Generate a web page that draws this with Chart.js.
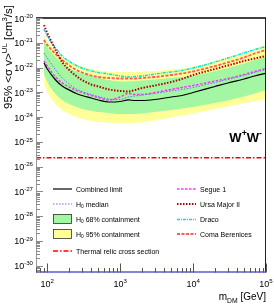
<!DOCTYPE html>
<html>
<head>
<meta charset="utf-8">
<script src="https://cdn.jsdelivr.net/npm/chart.js@4"></script>
<style>
html, body { margin: 0; padding: 0; background: #fff; }
canvas { display: block; }
</style>
</head>
<body>
<canvas id="chart" width="274" height="307"></canvas>
<script>
// DM mass grid (GeV) and 95% UL on <sigma v> (cm^3/s)
const masses = [90, 100, 130, 160, 200, 250, 300, 400, 500, 700, 1000, 1300, 1600, 2000, 3000, 5000, 7000, 1e4, 2e4, 3e4, 5e4, 7e4, 1e5];

const combined = [1.52e-22, 8.7e-23, 3.14e-23, 1.80e-23, 1.24e-23, 8.95e-24, 7.43e-24, 5.89e-24, 4.90e-24, 4.06e-24, 4.26e-24, 4.90e-24, 4.67e-24, 4.67e-24, 5.13e-24, 6.47e-24, 7.43e-24, 9.82e-24, 1.72e-23, 2.38e-23, 3.44e-23, 4.55e-23, 5.85e-23];
const median = [3.86e-22, 2.43e-22, 7.96e-23, 3.78e-23, 2.16e-23, 1.36e-23, 1.08e-23, 8.16e-24, 6.78e-24, 5.37e-24, 5.13e-24, 6.47e-24, 7.10e-24, 7.78e-24, 8.95e-24, 1.13e-23, 1.30e-23, 1.56e-23, 2.49e-23, 3.29e-23, 4.77e-23, 6.31e-23, 8.34e-23];
const segue1 = [1.84e-22, 1.15e-22, 4.15e-23, 2.38e-23, 1.64e-23, 1.18e-23, 9.82e-24, 7.43e-24, 6.17e-24, 4.90e-24, 6.47e-24, 8.95e-24, 8.16e-24, 8.16e-24, 9.82e-24, 1.30e-23, 1.56e-23, 1.88e-23, 2.86e-23, 3.61e-23, 5.24e-23, 6.92e-23, 9.14e-23];
const ursaMajorII = [5.21e-21, 2.48e-21, 5.11e-22, 1.67e-22, 7.96e-23, 4.55e-23, 3.14e-23, 2.07e-23, 1.72e-23, 1.30e-23, 1.13e-23, 1.08e-23, 1.24e-23, 1.49e-23, 1.88e-23, 2.61e-23, 3.44e-23, 5.00e-23, 8.73e-23, 1.21e-22, 1.84e-22, 2.32e-22, 2.92e-22];
const draco = [3.60e-21, 1.88e-21, 6.15e-22, 2.92e-22, 1.75e-22, 1.21e-22, 9.57e-23, 7.24e-23, 6.31e-23, 5.48e-23, 4.55e-23, 4.15e-23, 4.35e-23, 4.55e-23, 5.48e-23, 6.61e-23, 7.59e-23, 9.57e-23, 1.67e-22, 2.43e-22, 3.86e-22, 5.35e-22, 7.06e-22];
const comaBerenices = [1.29e-21, 8.13e-22, 3.52e-22, 2.01e-22, 1.21e-22, 7.96e-23, 6.31e-23, 4.77e-23, 4.15e-23, 3.78e-23, 3.61e-23, 3.61e-23, 3.61e-23, 3.78e-23, 4.15e-23, 5.00e-23, 5.74e-23, 6.92e-23, 1.15e-22, 1.60e-22, 2.54e-22, 3.69e-22, 5.11e-22];

// H0 containment bands
const band68Hi = [1.18e-21, 6.75e-22, 2.66e-22, 1.52e-22, 9.58e-23, 6.92e-23, 5.75e-23, 4.55e-23, 3.78e-23, 3.14e-23, 2.73e-23, 2.73e-23, 2.86e-23, 3.00e-23, 3.29e-23, 3.78e-23, 4.15e-23, 4.77e-23, 7.25e-23, 9.58e-23, 1.46e-22, 2.02e-22, 2.66e-22];
const band68Lo = [5.49e-23, 2.61e-23, 8.55e-24, 4.89e-24, 3.37e-24, 2.55e-24, 2.12e-24, 1.76e-24, 1.60e-24, 1.46e-24, 1.33e-24, 1.33e-24, 1.33e-24, 1.39e-24, 1.60e-24, 1.93e-24, 2.22e-24, 2.55e-24, 3.70e-24, 4.67e-24, 6.77e-24, 8.95e-24, 1.24e-23];
const band95Hi = [2.06e-21, 1.18e-21, 4.65e-22, 2.79e-22, 1.84e-22, 1.33e-22, 1.10e-22, 8.73e-23, 7.59e-23, 6.92e-23, 6.61e-23, 6.61e-23, 6.61e-23, 6.92e-23, 7.25e-23, 8.33e-23, 9.15e-23, 1.10e-22, 1.84e-22, 2.54e-22, 4.05e-22, 5.60e-22, 8.13e-22];
const band95Lo = [2.17e-23, 1.03e-23, 3.37e-24, 1.93e-24, 1.33e-24, 1.01e-24, 8.37e-25, 6.95e-25, 6.33e-25, 6.04e-25, 5.77e-25, 5.77e-25, 5.77e-25, 6.04e-25, 7.28e-25, 9.62e-25, 1.16e-24, 1.39e-24, 2.12e-24, 2.67e-24, 3.70e-24, 4.46e-24, 5.13e-24];

// thermal relic cross section
const relicMass = [70, 1e5];
const relicSigma = [2.3e-26, 2.3e-26];

// axis ranges and decade tick labels
const xMin = 70, xMax = 1e5;
const yMin = 5.3e-31, yMax = 1e-20;
const xDecades = [2, 3, 4, 5];
const yDecades = [-30, -29, -28, -27, -26, -25, -24, -23, -22, -21, -20];

const FONT = '"Liberation Sans", Arial, Helvetica, sans-serif';

function pts(xs, ys) { return xs.map((m, i) => ({ x: m, y: ys[i] })); }

function line(data, color, width, dash, order) {
    return { data, borderColor: color, borderWidth: width, borderDash: dash, fill: false, order,
             cubicInterpolationMode: 'monotone', pointRadius: 0 };
}

// draw text made of normal and superscript/subscript pieces
function richText(ctx, parts, x, y, size, align) {
    const small = size * 0.68;
    let w = 0;
    parts.forEach(p => {
        ctx.font = (p.bold ? 'bold ' : '') + (p.sup || p.sub ? small : size) + 'px ' + FONT;
        p.w = ctx.measureText(p.t).width;
        w += p.w;
    });
    let cx = align === 'right' ? x - w : align === 'center' ? x - w / 2 : x;
    parts.forEach(p => {
        ctx.font = (p.bold ? 'bold ' : '') + (p.sup || p.sub ? small : size) + 'px ' + FONT;
        const dy = p.sup ? -size * 0.42 : p.sub ? size * 0.25 : 0;
        ctx.fillText(p.t, cx, y + dy);
        cx += p.w;
    });
}

const decorPlugin = {
    id: 'decor',
    afterDraw(chart) {
        const ctx = chart.ctx;
        const { left, right, top, bottom } = chart.chartArea;
        const xs = chart.scales.x, ys = chart.scales.y;
        ctx.save();
        ctx.textBaseline = 'alphabetic';
        ctx.fillStyle = '#000';

        // frame
        ctx.lineWidth = 1;
        ctx.strokeStyle = '#999';
        ctx.beginPath(); ctx.moveTo(left + 0.5, top); ctx.lineTo(left + 0.5, bottom); ctx.stroke();
        ctx.strokeStyle = '#222';
        ctx.beginPath(); ctx.moveTo(right - 0.5, top); ctx.lineTo(right - 0.5, bottom); ctx.stroke();
        ctx.lineWidth = 1.5;
        ctx.strokeStyle = '#000';
        ctx.beginPath(); ctx.moveTo(left, top); ctx.lineTo(right, top); ctx.stroke();
        ctx.strokeStyle = '#5b5bd0';
        ctx.beginPath(); ctx.moveTo(left, bottom - 0.5); ctx.lineTo(right, bottom - 0.5); ctx.stroke();

        // y ticks (inside, left)
        ctx.lineWidth = 1;
        ctx.strokeStyle = '#8a8a8a';
        for (let e = -31; e <= -20; e++) {
            for (let k = 1; k <= 9; k++) {
                const v = Number(k + 'e' + e);
                if (v < yMin || v > yMax) continue;
                const py = Math.round(ys.getPixelForValue(v)) + 0.5;
                const len = k === 1 ? 7 : 4;
                ctx.beginPath(); ctx.moveTo(left, py); ctx.lineTo(left + len, py); ctx.stroke();
            }
        }
        // x ticks (inside, bottom)
        ctx.strokeStyle = '#555';
        for (let e = 1; e <= 5; e++) {
            for (let k = 1; k <= 9; k++) {
                const v = Number(k + 'e' + e);
                if (v < xMin || v > xMax) continue;
                const px = Math.round(xs.getPixelForValue(v)) + 0.5;
                const len = k === 1 ? 9 : 4.5;
                ctx.beginPath(); ctx.moveTo(px, bottom); ctx.lineTo(px, bottom - len); ctx.stroke();
            }
        }

        // tick labels
        yDecades.forEach(e => {
            const py = ys.getPixelForValue(Number('1e' + e));
            richText(ctx, [{ t: '10' }, { t: String(e), sup: true }], left - 3, py + 3.5, 9, 'right');
        });
        xDecades.forEach(e => {
            const px = xs.getPixelForValue(Number('1e' + e));
            richText(ctx, [{ t: '10' }, { t: String(e), sup: true }], px, 287, 9, 'center');
        });

        // axis titles
        richText(ctx, [{ t: 'm' }, { t: 'DM', sub: true }, { t: ' [GeV]' }], right, 300, 10, 'right');
        ctx.save();
        ctx.translate(12, 5);
        ctx.rotate(-Math.PI / 2);
        richText(ctx, [{ t: '95% <\u03c3 v>' }, { t: 'UL', sup: true }, { t: ' [cm' }, { t: '3', sup: true }, { t: '/s]' }], 0, 0, 11.5, 'right');
        ctx.restore();

        // channel label
        richText(ctx, [{ t: 'W', bold: true }, { t: '+', sup: true, bold: true }, { t: 'W', bold: true }, { t: '-', sup: true, bold: true }], 262, 141.5, 13, 'right');

        // legend
        const entries = [
            { x: 53, y: 189, label: 'Combined limit', kind: 'line', color: '#000', w: 1.2, dash: [] },
            { x: 53, y: 204, label: 'H0 median', kind: 'line', color: '#6b6bff', w: 1, dash: [1.5, 1.5], h0: true },
            { x: 53, y: 219, label: '68% containment', kind: 'box', color: '#a3f7a3', h0: true },
            { x: 53, y: 234, label: '95% containment', kind: 'box', color: '#ffff99', h0: true },
            { x: 53, y: 251, label: 'Thermal relic cross section', kind: 'line', color: '#ff0000', w: 1.5, dash: [5, 2, 1.5, 2] },
            { x: 177, y: 189, label: 'Segue 1', kind: 'line', color: '#ff33ff', w: 1.5, dash: [2.5, 1.5] },
            { x: 177, y: 204, label: 'Ursa Major II', kind: 'line', color: '#b00000', w: 2, dash: [1.5, 1.5] },
            { x: 177, y: 219.5, label: 'Draco', kind: 'line', color: '#00e0f0', w: 1.5, dash: [3, 1, 1, 1] },
            { x: 177, y: 234, label: 'Coma Berenices', kind: 'line', color: '#ff5a5a', w: 1.8, dash: [3, 1.5] }
        ];
        entries.forEach(en => {
            if (en.kind === 'box') {
                ctx.fillStyle = en.color;
                ctx.fillRect(en.x, en.y - 5, 19, 10);
                ctx.strokeStyle = '#333';
                ctx.lineWidth = 0.8;
                ctx.setLineDash([]);
                ctx.strokeRect(en.x + 0.5, en.y - 4.5, 18, 9);
            } else {
                ctx.strokeStyle = en.color;
                ctx.lineWidth = en.w;
                ctx.setLineDash(en.dash);
                ctx.beginPath(); ctx.moveTo(en.x, en.y); ctx.lineTo(en.x + 19, en.y); ctx.stroke();
                ctx.setLineDash([]);
            }
            ctx.fillStyle = '#000';
            const tx = en.x + 23, ty = en.y + 2.5;
            if (en.h0 && en.kind === 'box') {
                richText(ctx, [{ t: 'H' }, { t: '0', sub: true }, { t: ' ' + en.label }], tx, ty, 7, 'left');
            } else if (en.h0) {
                richText(ctx, [{ t: 'H' }, { t: '0', sub: true }, { t: ' median' }], tx, ty, 7, 'left');
            } else {
                richText(ctx, [{ t: en.label }], tx, ty, 7, 'left');
            }
        });
        ctx.restore();
    }
};

new Chart(document.getElementById('chart'), {
    type: 'line',
    data: {
        datasets: [
            { data: pts(masses, band95Hi), borderWidth: 0, backgroundColor: '#ffff99', fill: '+1', order: 20, pointRadius: 0, cubicInterpolationMode: 'monotone' },
            { data: pts(masses, band95Lo), borderWidth: 0, fill: false, order: 20, pointRadius: 0, cubicInterpolationMode: 'monotone' },
            { data: pts(masses, band68Hi), borderWidth: 0, backgroundColor: '#a3f7a3', fill: '+1', order: 19, pointRadius: 0, cubicInterpolationMode: 'monotone' },
            { data: pts(masses, band68Lo), borderWidth: 0, fill: false, order: 19, pointRadius: 0, cubicInterpolationMode: 'monotone' },
            line(pts(relicMass, relicSigma), '#ff0000', 1.5, [5, 2, 1.5, 2], 8),
            line(pts(masses, comaBerenices), '#ff5a5a', 1.8, [3, 1.5], 6),
            line(pts(masses, draco), '#00e0f0', 1.5, [3, 1, 1, 1], 5),
            line(pts(masses, ursaMajorII), '#b00000', 2, [1.5, 1.5], 4),
            line(pts(masses, segue1), '#ff33ff', 1.5, [2.5, 1.5], 3),
            line(pts(masses, median), '#6b6bff', 1, [1.5, 1.5], 2),
            line(pts(masses, combined), '#000000', 1.2, [], 1)
        ]
    },
    options: {
        responsive: false,
        animation: false,
        events: [],
        layout: { padding: { left: 36, top: 18, right: 8, bottom: 34.5 } },
        scales: {
            x: { type: 'logarithmic', min: xMin, max: xMax, display: false },
            y: { type: 'logarithmic', min: yMin, max: yMax, display: false }
        },
        plugins: { legend: { display: false }, tooltip: { enabled: false } }
    },
    plugins: [decorPlugin]
});
</script>
</body>
</html>
